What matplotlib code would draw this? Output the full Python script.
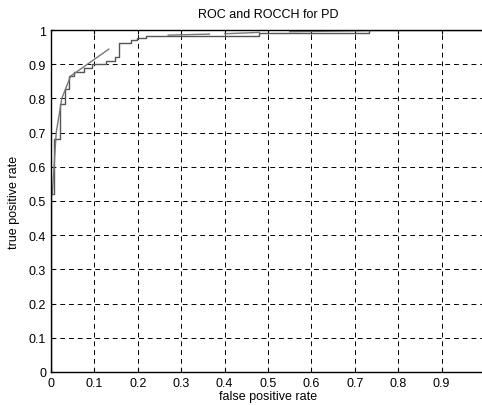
import numpy as np
import matplotlib
matplotlib.use("Agg")
import matplotlib.pyplot as plt

# ROC step curve (false positive rate, true positive rate)
roc_fpr = [0, 0, 0.008, 0.008, 0.021, 0.021, 0.033, 0.033, 0.042, 0.042, 0.052, 0.052,
           0.075, 0.075, 0.095, 0.095, 0.126, 0.126, 0.147, 0.147, 0.157, 0.157,
           0.184, 0.184, 0.199, 0.199, 0.218, 0.218, 0.48, 0.48, 0.732, 0.732, 1.0]
roc_tpr = [0, 0.52, 0.52, 0.68, 0.68, 0.784, 0.784, 0.827, 0.827, 0.866, 0.866, 0.878,
           0.878, 0.888, 0.888, 0.9, 0.9, 0.908, 0.908, 0.92, 0.92, 0.962,
           0.962, 0.972, 0.972, 0.977, 0.977, 0.981, 0.981, 0.99, 0.99, 1.0, 1.0]

# ROC convex hull pieces (NaN = break between visible pieces)
hull_fpr = [0.003, 0.012, 0.025, 0.045, 0.133, np.nan, 0.27, 0.365, np.nan, 0.40, 0.48, np.nan, 0.55, 0.73]
hull_tpr = [0.52, 0.70, 0.80, 0.865, 0.944, np.nan, 0.985, 0.988, np.nan, 0.989, 0.993, np.nan, 0.995, 0.998]

x_ticks = [0, 0.1, 0.2, 0.3, 0.4, 0.5, 0.6, 0.7, 0.8, 0.9]
y_ticks = [0, 0.1, 0.2, 0.3, 0.4, 0.5, 0.6, 0.7, 0.8, 0.9, 1]

plt.rcParams['font.family'] = ['Liberation Sans', 'DejaVu Sans']

fig = plt.figure(figsize=(4.82, 4.06), dpi=100)
# axes run past the right edge of the image, as in the original
ax = fig.add_axes([51 / 482, 33 / 406, 434 / 482, 342 / 406])

ax.plot(roc_fpr, roc_tpr, color='#555555', lw=1.0)
ax.plot(hull_fpr, hull_tpr, color='#777777', lw=1.0)

ax.set_xlim(0, 1)
ax.set_ylim(0, 1)
ax.set_xticks(x_ticks)
ax.set_yticks(y_ticks)
ax.set_xticklabels([f"{t:g}" for t in x_ticks])
ax.set_yticklabels([f"{t:g}" for t in y_ticks])
ax.tick_params(direction='in', length=3, labelsize=9, top=True, right=True, width=0.8)
ax.grid(True, color='black', linestyle=(0, (5, 4)), linewidth=0.7)
for s in ax.spines.values():
    s.set_linewidth(1.0)

ax.set_xlabel("false positive rate", fontsize=9, labelpad=1)
ax.set_ylabel("true positive rate", fontsize=9, labelpad=6)
ax.set_title("ROC and ROCCH for PD", fontsize=9, pad=9)

fig.savefig("out.png", dpi=100)
